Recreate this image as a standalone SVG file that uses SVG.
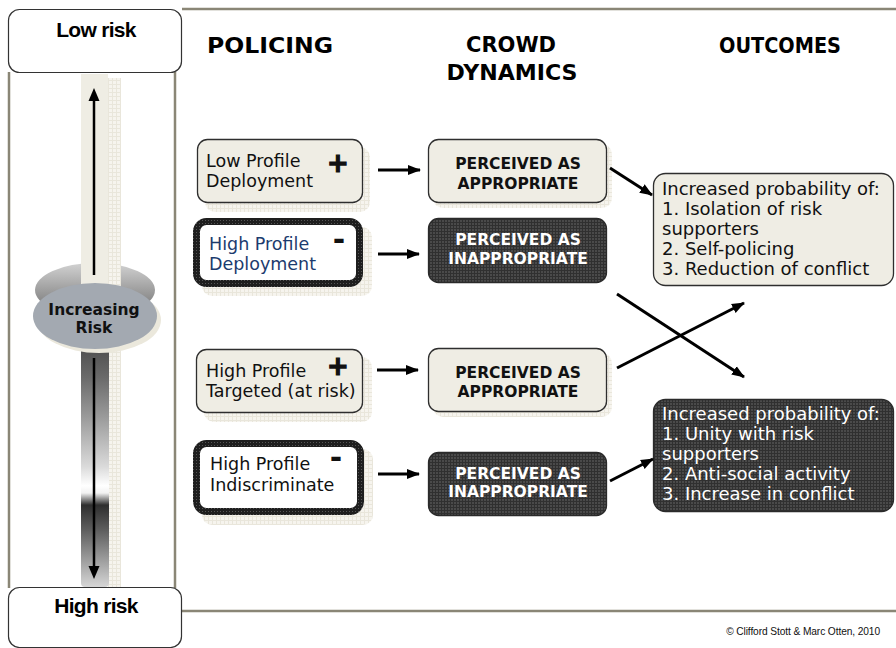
<svg xmlns="http://www.w3.org/2000/svg" width="896" height="648" viewBox="0 0 896 648">
<defs>
<style>
.frame{stroke:#8a8676;stroke-width:2.5;fill:none}
.body{font-family:"DejaVu Sans",Verdana,sans-serif;font-size:17.5px;fill:#111}
.blue{fill:#1c3b6e}
.sign{font-family:"DejaVu Sans",sans-serif;font-weight:bold;font-size:26px;fill:#111;stroke:#111;stroke-width:1.2;text-anchor:middle}
.minus{font-family:"DejaVu Sans",sans-serif;font-weight:bold;font-size:30px;fill:#111;text-anchor:middle}
.head{font-family:"DejaVu Sans",Verdana,sans-serif;font-weight:bold;font-size:22px;fill:#000;text-anchor:middle}
.crowd{font-family:"DejaVu Sans",Verdana,sans-serif;font-weight:bold;font-size:15.5px;text-anchor:middle}
.out{font-family:"DejaVu Sans",Verdana,sans-serif;font-size:18px}
.risk{font-family:"Liberation Sans",Arial,sans-serif;font-weight:bold;font-size:21px;letter-spacing:-0.7px;text-anchor:middle;fill:#000}
.beige{fill:#efede4;stroke:#2e2e2e;stroke-width:1.3}
.shadow{fill:url(#lightgrid)}
.dark{fill:url(#darkgrid);stroke:#2a2a2a;stroke-width:1.3}
.thick{fill:#fff;stroke:url(#thickgrid);stroke-width:7}
.arrow{stroke:#000;stroke-width:3;fill:none;marker-end:url(#ah)}
</style>
<pattern id="lightgrid" width="4" height="4" patternUnits="userSpaceOnUse">
<rect width="4" height="4" fill="#f6f4ee"/>
<path d="M0 0.5H4M0.5 0V4" stroke="#e9e6db" stroke-width="1"/>
</pattern>
<pattern id="darkgrid" width="3" height="3" patternUnits="userSpaceOnUse">
<rect width="3" height="3" fill="#4a4a4a"/>
<path d="M0 0.5H3M0.5 0V3" stroke="#303030" stroke-width="1"/>
</pattern>
<pattern id="thickgrid" width="3" height="3" patternUnits="userSpaceOnUse">
<rect width="3" height="3" fill="#1e1e1e"/>
<rect x="1" y="1" width="1" height="1" fill="#555"/>
</pattern>
<linearGradient id="lowbar" x1="0" y1="0" x2="0" y2="1">
<stop offset="0" stop-color="#4e4e4e"/>
<stop offset="0.13" stop-color="#6a6a6a"/>
<stop offset="0.3" stop-color="#9c9c9c"/>
<stop offset="0.5" stop-color="#dadada"/>
<stop offset="0.58" stop-color="#ffffff"/>
<stop offset="0.61" stop-color="#f2f2f2"/>
<stop offset="0.66" stop-color="#2e2e2e"/>
<stop offset="0.76" stop-color="#5c5c5c"/>
<stop offset="1" stop-color="#d6d6d6"/>
</linearGradient>
<linearGradient id="backell" x1="0" y1="0" x2="0" y2="1">
<stop offset="0" stop-color="#d2d2d2"/>
<stop offset="0.7" stop-color="#8a8a8a"/>
<stop offset="1" stop-color="#6a6a6a"/>
</linearGradient>
<marker id="ah" markerUnits="userSpaceOnUse" markerWidth="14" markerHeight="12" refX="12" refY="6" orient="auto">
<path d="M0,1 L13,6 L0,11 z" fill="#000"/>
</marker>
</defs>

<g id="frame">
<line class="frame" x1="182" y1="9" x2="896" y2="9"/>
<line class="frame" x1="9" y1="72" x2="9" y2="588"/>
<line class="frame" x1="175" y1="72" x2="175" y2="588"/>
<line class="frame" x1="182" y1="611" x2="896" y2="611"/>
</g>

<g id="risk-scale">
<ellipse cx="95" cy="290" rx="60" ry="27" fill="url(#backell)"/>
<rect x="108" y="78" width="13" height="509" class="shadow"/>
<rect x="81" y="74" width="27" height="230" fill="#efede4"/>
<rect x="81" y="346" width="28" height="241" rx="4" fill="url(#lowbar)"/>
<line x1="94" y1="275" x2="94" y2="100" stroke="#000" stroke-width="2.5"/>
<path d="M88.5,101 L94,88 L99.5,101 z" fill="#000"/>
<line x1="94" y1="358" x2="94" y2="567" stroke="#000" stroke-width="2.5"/>
<path d="M88.5,566 L94,579 L99.5,566 z" fill="#000"/>
</g>

<g id="increasing-risk">
<ellipse cx="99" cy="320" rx="62" ry="33" fill="#ebe8dc"/>
<ellipse cx="95" cy="316" rx="62" ry="33" fill="#a3a9b1"/>
<text x="94" y="315" font-family="DejaVu Sans, Verdana, sans-serif" font-weight="bold" font-size="15.5" text-anchor="middle" fill="#111">Increasing</text>
<text x="94" y="333" font-family="DejaVu Sans, Verdana, sans-serif" font-weight="bold" font-size="15.5" text-anchor="middle" fill="#111">Risk</text>
</g>

<g id="low-risk">
<rect x="8.5" y="9.5" width="173" height="63" rx="11" fill="#fff" stroke="#333" stroke-width="1.2"/>
<text class="risk" x="96" y="37">Low risk</text>
</g>

<g id="high-risk">
<rect x="8.5" y="587.5" width="173" height="60" rx="11" fill="#fff" stroke="#333" stroke-width="1.2"/>
<text class="risk" x="96" y="613">High risk</text>
</g>

<g id="headers">
<text class="head" x="270" y="53" textLength="126" lengthAdjust="spacingAndGlyphs">POLICING</text>
<text class="head" x="511" y="52" textLength="90" lengthAdjust="spacingAndGlyphs">CROWD</text>
<text class="head" x="512" y="80" textLength="131" lengthAdjust="spacingAndGlyphs">DYNAMICS</text>
<text class="head" x="780" y="53" textLength="122" lengthAdjust="spacingAndGlyphs">OUTCOMES</text>
</g>

<g id="policing-low-profile">
<rect x="205" y="147" width="165" height="65" rx="10" class="shadow"/>
<rect x="197.5" y="139.5" width="165" height="63" rx="10" class="beige"/>
<text class="body" x="206" y="167">Low Profile</text>
<text class="body" x="206" y="187">Deployment</text>
<text class="sign" x="338" y="172">+</text>
</g>

<g id="policing-high-profile-deployment">
<rect x="202" y="227" width="170" height="69" rx="10" class="shadow"/>
<rect x="196.5" y="221.5" width="163" height="62" rx="10" class="thick"/>
<text class="body blue" x="209" y="250">High Profile</text>
<text class="body blue" x="209" y="270">Deployment</text>
<text class="minus" x="339" y="250">-</text>
</g>

<g id="policing-high-profile-targeted">
<rect x="204" y="357" width="168" height="65" rx="10" class="shadow"/>
<rect x="196.5" y="349.5" width="166" height="63" rx="10" class="beige"/>
<text class="body" x="206" y="377">High Profile</text>
<text class="body" x="206" y="397">Targeted (at risk)</text>
<text class="sign" x="338" y="375">+</text>
</g>

<g id="policing-high-profile-indiscriminate">
<rect x="202" y="449" width="171" height="76" rx="10" class="shadow"/>
<rect x="196.5" y="443.5" width="164" height="68" rx="10" class="thick"/>
<text class="body" x="210" y="470">High Profile</text>
<text class="body" x="210" y="491">Indiscriminate</text>
<text class="minus" x="336" y="468">-</text>
</g>

<g id="crowd-appropriate-1">
<rect x="433" y="144" width="179" height="64" rx="10" class="shadow"/>
<rect x="428.5" y="139.5" width="178" height="63" rx="10" class="beige"/>
<text class="crowd" x="518" y="169" fill="#111">PERCEIVED AS</text>
<text class="crowd" x="518" y="189" fill="#111">APPROPRIATE</text>
</g>

<g id="crowd-inappropriate-1">
<rect x="428.5" y="218.5" width="178" height="64" rx="10" class="dark"/>
<text class="crowd" x="518" y="245" fill="#fff">PERCEIVED AS</text>
<text class="crowd" x="518" y="264" fill="#fff">INAPPROPRIATE</text>
</g>

<g id="crowd-appropriate-2">
<rect x="433" y="353" width="179" height="64" rx="10" class="shadow"/>
<rect x="428.5" y="348.5" width="178" height="63" rx="10" class="beige"/>
<text class="crowd" x="518" y="378" fill="#111">PERCEIVED AS</text>
<text class="crowd" x="518" y="397" fill="#111">APPROPRIATE</text>
</g>

<g id="crowd-inappropriate-2">
<rect x="428.5" y="452.5" width="178" height="63" rx="10" class="dark"/>
<text class="crowd" x="518" y="479" fill="#fff">PERCEIVED AS</text>
<text class="crowd" x="518" y="497" fill="#fff">INAPPROPRIATE</text>
</g>

<g id="outcome-positive">
<rect x="653.5" y="173.5" width="240" height="112" rx="12" class="beige"/>
<text class="out" x="662" y="195" fill="#111">Increased probability of:</text>
<text class="out" x="662" y="215" fill="#111">1. Isolation of risk</text>
<text class="out" x="662" y="235" fill="#111">supporters</text>
<text class="out" x="662" y="255" fill="#111">2. Self-policing</text>
<text class="out" x="662" y="275" fill="#111">3. Reduction of conflict</text>
</g>

<g id="outcome-negative">
<rect x="653.5" y="399.5" width="240" height="112" rx="12" class="dark"/>
<text class="out" x="662" y="420" fill="#fff">Increased probability of:</text>
<text class="out" x="662" y="440" fill="#fff">1. Unity with risk</text>
<text class="out" x="662" y="460" fill="#fff">supporters</text>
<text class="out" x="662" y="480" fill="#fff">2. Anti-social activity</text>
<text class="out" x="662" y="500" fill="#fff">3. Increase in conflict</text>
</g>

<g id="connectors">
<line class="arrow" x1="378" y1="170" x2="420" y2="170"/>
<line class="arrow" x1="378" y1="254" x2="419" y2="254"/>
<line class="arrow" x1="377" y1="370" x2="418" y2="370"/>
<line class="arrow" x1="378" y1="474" x2="419" y2="474"/>
<line class="arrow" x1="610" y1="168" x2="652" y2="195"/>
<line class="arrow" x1="610" y1="481" x2="653" y2="459"/>
<line class="arrow" x1="617" y1="294" x2="744" y2="377"/>
<line class="arrow" x1="617" y1="368" x2="744" y2="303"/>
</g>

<g id="credit">
<text x="880" y="635" font-family="Liberation Sans, Arial, sans-serif" font-size="10.2" letter-spacing="-0.1" text-anchor="end" fill="#111">© Clifford Stott &amp; Marc Otten, 2010</text>
</g>
</svg>
